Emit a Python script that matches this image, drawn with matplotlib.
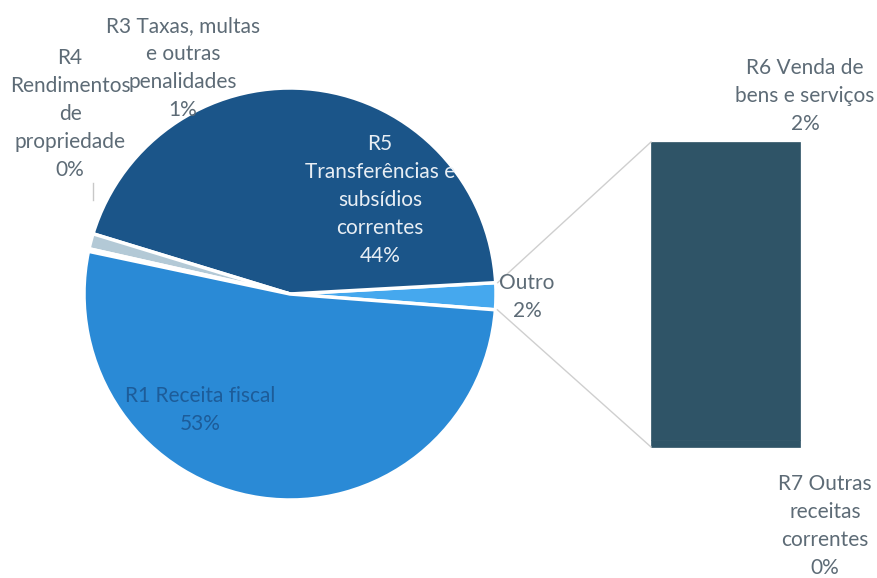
import numpy as np
import matplotlib.pyplot as plt

# data (percent of total revenue)
pie_labels = ['Outro', 'R5\nTransferências e\nsubsídios\ncorrentes', 'R3 Taxas, multas\ne outras\npenalidades',
              'R4\nRendimentos\nde\npropriedade', 'R1 Receita fiscal']
pie_values = [2.1, 44.4, 1.2, 0.2, 52.1]
pie_pct = ['2%', '44%', '1%', '0%', '53%']
pie_colors = ['#45a8ee', '#1b5589', '#b3c9d6', '#dce4ea', '#2a8ad6']

# bar of the "Outro" slice, stacked bottom to top
bar_labels = ['R7 Outras\nreceitas\ncorrentes', 'R6 Venda de\nbens e serviços']
bar_values = [0.05, 2.05]
bar_pct = ['0%', '2%']

plt.rcParams['font.family'] = ['Lato', 'DejaVu Sans']
gray = '#5d6b76'

fig = plt.figure(figsize=(8.77, 5.78), dpi=100)
ax = fig.add_axes([0, 0, 1, 1])

cx, cy, r = 290, 284, 206
wedges, _ = ax.pie(pie_values, colors=pie_colors, startangle=-4.4, counterclock=True,
                   center=(cx, cy), radius=r, frame=True,
                   wedgeprops=dict(edgecolor='white', linewidth=2.5))
ax.set_xlim(0, 877)
ax.set_ylim(0, 578)
ax.set_aspect('equal')
ax.axis('off')

bx, bw, bbot, bh = 725.5, 149, 131, 305
scale = bh / sum(bar_values)
bottom = bbot
for v in bar_values:
    ax.bar(bx, v * scale, width=bw, bottom=bottom, color='#2f5467', edgecolor='#2f5467', linewidth=0.5)
    bottom += v * scale

# connector lines from the Outro slice to the bar
w = wedges[0]
for ang, by in [(w.theta2, bbot + bh), (w.theta1, bbot)]:
    px = cx + r * np.cos(np.radians(ang))
    py = cy + r * np.sin(np.radians(ang))
    ax.plot([px + 2, bx - bw / 2], [py, by], color='#cfcfcf', lw=1)

fs = 15
ls = 1.5
def lab(x, y, s, c=gray):
    ax.text(x, 578 - y, s, ha='center', va='center', fontsize=fs, color=c, linespacing=ls)

lab(527, 297, pie_labels[0] + '\n' + pie_pct[0])
lab(380, 200, pie_labels[1] + '\n' + pie_pct[1], '#e8eef4')
lab(183, 68, pie_labels[2] + '\n' + pie_pct[2])
lab(70, 114, pie_labels[3] + '\n' + pie_pct[3])
lab(200, 410, pie_labels[4] + '\n' + pie_pct[4], '#1d5c99')
lab(805, 96, bar_labels[1] + '\n' + bar_pct[1])
lab(825, 526, bar_labels[0] + '\n' + bar_pct[0])

# small leader line for R4
ax.plot([93, 93], [578 - 183, 578 - 200], color='#c8c8c8', lw=1)

fig.savefig('out.png', dpi=100)
